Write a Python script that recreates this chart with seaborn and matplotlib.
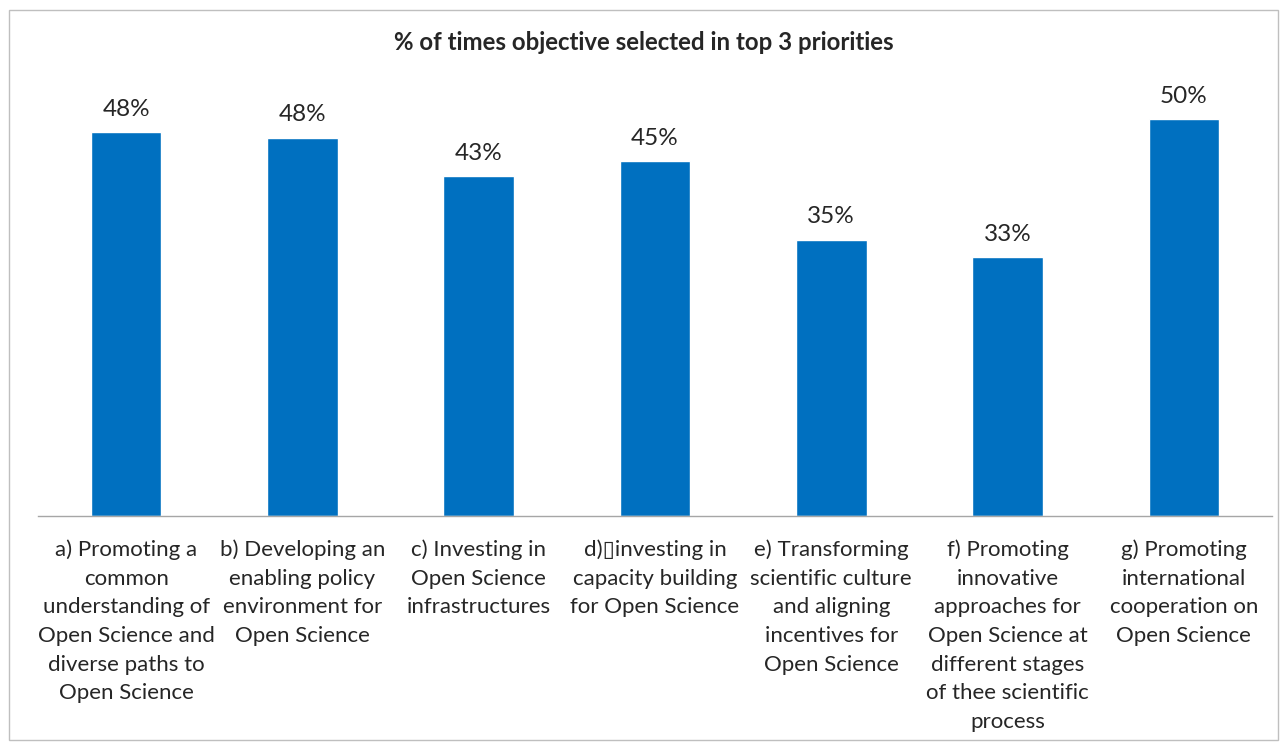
import matplotlib
matplotlib.use("Agg")
import matplotlib.pyplot as plt
import seaborn as sns
import pandas as pd
from matplotlib.patches import Rectangle

categories = [
    "a) Promoting a\ncommon\nunderstanding of\nOpen Science and\ndiverse paths to\nOpen Science",
    "b) Developing an\nenabling policy\nenvironment for\nOpen Science",
    "c) Investing in\nOpen Science\ninfrastructures",
    "d)\u25afinvesting in\ncapacity building\nfor Open Science",
    "e) Transforming\nscientific culture\nand aligning\nincentives for\nOpen Science",
    "f) Promoting\ninnovative\napproaches for\nOpen Science at\ndifferent stages\nof thee scientific\nprocess",
    "g) Promoting\ninternational\ncooperation on\nOpen Science",
]
values = [48.4, 47.7, 42.8, 44.7, 34.8, 32.6, 50.0]
title = "% of times objective selected in top 3 priorities"

sns.set_theme(style="white")
plt.rcParams['font.family'] = ['Lato', 'DejaVu Sans']

W, H = 1287, 747
fig = plt.figure(figsize=(W / 100, H / 100), dpi=100)
ax = fig.add_axes([38 / W, 1 - 516 / H, (1272 - 38) / W, (516 - 40) / H])

df = pd.DataFrame({"cat": categories, "val": values})
sns.barplot(data=df, x="cat", y="val", color="#0070C0", width=0.4, ax=ax, saturation=1)

ax.set_ylim(0, 60)
ax.set_xlim(-0.5, len(categories) - 0.5)
ax.set_yticks([])
ax.set_xlabel("")
ax.set_ylabel("")
for s in ["top", "left", "right"]:
    ax.spines[s].set_visible(False)
ax.spines["bottom"].set_color("#A6A6A6")
ax.spines["bottom"].set_linewidth(1)

ax.set_xticks(range(len(categories)))
ax.set_xticklabels(categories, fontsize=16, linespacing=1.54)
ax.tick_params(axis="x", which="major", length=0, pad=17)
ax.set_xticks([i - 0.5 for i in range(len(categories) + 1)], minor=True)
ax.tick_params(axis="x", which="minor", length=8, color="#A6A6A6", width=1, direction="out")

ax.bar_label(ax.containers[0], labels=[f"{v:.0f}%" for v in values], padding=9, fontsize=17.5)

fig.text(0.5, 1 - 42 / H, title, ha="center", va="center", fontsize=17.3, fontweight="bold")

fig.patches.append(Rectangle((9 / W, 1 - 740 / H), (1278 - 9) / W, (740 - 10) / H,
                             transform=fig.transFigure, fill=False, edgecolor="#BFBFBF", linewidth=1))

fig.savefig("out.png", dpi=100)
